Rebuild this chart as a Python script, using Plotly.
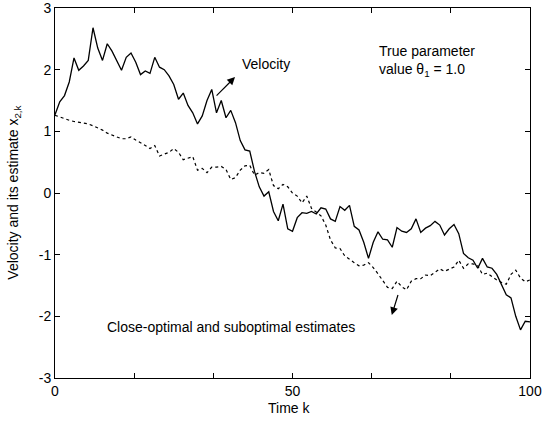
import plotly.graph_objects as go

# Time index k = 0..100
time_k = list(range(101))

# Simulated velocity x_{2,k}
velocity = [
    1.27, 1.48, 1.58, 1.80, 2.19, 1.99, 2.06, 2.15, 2.68, 2.35,
    2.15, 2.42, 2.30, 2.15, 1.99, 2.20, 2.27, 2.12, 1.92, 1.98,
    1.94, 2.20, 2.04, 2.00, 1.90, 1.76, 1.52, 1.62, 1.42, 1.30,
    1.12, 1.25, 1.50, 1.68, 1.30, 1.50, 1.22, 1.34, 1.14, 0.85,
    0.70, 0.68, 0.35, 0.10, -0.05, 0.02, -0.30, -0.45, -0.18, -0.58,
    -0.62, -0.40, -0.32, -0.33, -0.30, -0.34, -0.24, -0.26, -0.42, -0.46,
    -0.22, -0.28, -0.20, -0.54, -0.60, -0.80, -1.06, -0.80, -0.63, -0.75,
    -0.76, -0.88, -0.56, -0.62, -0.64, -0.58, -0.42, -0.64, -0.57, -0.53,
    -0.46, -0.52, -0.68, -0.58, -0.51, -0.66, -0.98, -1.05, -1.09, -1.22,
    -1.06, -1.20, -1.22, -1.32, -1.50, -1.65, -1.70, -2.00, -2.22, -2.08,
    -2.09,
]

# Close-optimal / suboptimal estimate of the velocity
estimate = [
    1.26, 1.23, 1.20, 1.18, 1.16, 1.15, 1.14, 1.12, 1.09, 1.06,
    1.02, 0.97, 0.94, 0.91, 0.88, 0.88, 0.91, 0.86, 0.82, 0.77,
    0.72, 0.77, 0.60, 0.63, 0.66, 0.72, 0.66, 0.54, 0.57, 0.59,
    0.37, 0.40, 0.33, 0.42, 0.42, 0.43, 0.38, 0.22, 0.25, 0.37,
    0.44, 0.45, 0.29, 0.33, 0.32, 0.38, 0.12, 0.07, 0.14, 0.10,
    0.00, -0.05, -0.16, -0.05, -0.25, -0.31, -0.37, -0.52, -0.76, -0.89,
    -0.90, -1.02, -1.08, -1.13, -1.18, -1.17, -1.13, -1.21, -1.31, -1.43,
    -1.53, -1.55, -1.43, -1.52, -1.57, -1.43, -1.39, -1.39, -1.33, -1.34,
    -1.28, -1.23, -1.27, -1.24, -1.20, -1.09, -1.22, -1.15, -1.15, -1.18,
    -1.32, -1.30, -1.36, -1.41, -1.45, -1.48, -1.32, -1.25, -1.38, -1.44,
    -1.41,
]

x_tick_vals = [0, 100 / 6, 200 / 6, 50, 400 / 6, 500 / 6, 100]
x_tick_text = ["0", "", "", "50", "", "", "100"]
y_tick_vals = [-3, -2, -1, 0, 1, 2, 3]
y_tick_text = ["-3", "-2", "-1", "0", "1", "2", "3"]

FONT = "Liberation Sans, Arial, Helvetica, sans-serif"

fig = go.Figure()
fig.add_trace(go.Scatter(
    x=time_k, y=velocity, mode="lines",
    line=dict(color="black", width=1.3),
    showlegend=False,
))
fig.add_trace(go.Scatter(
    x=time_k, y=estimate, mode="lines",
    line=dict(color="black", width=1.2, dash="3px,3px"),
    showlegend=False,
))

axis_common = dict(
    automargin=False,
    showgrid=False, zeroline=False,
    showline=True, linecolor="black", linewidth=1, mirror="ticks",
    ticks="inside", ticklen=5, tickwidth=1, tickcolor="black",
    ticklabeloverflow="allow",
    tickfont=dict(family=FONT, size=14, color="black"),
)

fig.update_xaxes(range=[0, 100], tickmode="array",
                 tickvals=x_tick_vals, ticktext=x_tick_text,
                 ticklabelstandoff=0, **axis_common)
fig.update_yaxes(range=[-3, 3], tickmode="array",
                 tickvals=y_tick_vals, ticktext=y_tick_text,
                 ticklabelstandoff=0, **axis_common)

txt = dict(family=FONT, size=14, color="black")
annotations = [
    # axis titles
    dict(text="Time k", xref="paper", yref="paper", x=0.493, y=-0.081,
         xanchor="center", yanchor="middle", showarrow=False, font=txt),
    dict(text="Velocity and its estimate x<sub>2,k</sub>", xref="paper", yref="paper",
         x=-0.087, y=0.5, xanchor="center", yanchor="middle",
         textangle=-90, showarrow=False, font=txt),
    # in-plot labels
    dict(text="Velocity", x=38.9, y=2.10, xanchor="left", yanchor="middle",
         showarrow=False, font=txt),
    dict(text="True parameter<br>value θ<sub>1</sub> = 1.0", x=67.8, y=2.14,
         xanchor="left", yanchor="middle", align="left",
         showarrow=False, font=txt),
    dict(text="Close-optimal and suboptimal estimates", x=10.5, y=-2.18,
         xanchor="left", yanchor="middle", showarrow=False, font=txt),
    # pointer arrows
    dict(text="", x=37.9, y=1.88, ax=33.7, ay=1.556, axref="x", ayref="y",
         showarrow=True, arrowhead=2, arrowsize=1.3, arrowwidth=1.2,
         arrowcolor="black", standoff=0),
    dict(text="", x=70.9, y=-1.98, ax=72.3, ay=-1.63, axref="x", ayref="y",
         showarrow=True, arrowhead=2, arrowsize=1.3, arrowwidth=1.2,
         arrowcolor="black", standoff=0),
]

fig.update_layout(
    width=542, height=421,
    margin=dict(l=55, r=12, t=8, b=43),
    paper_bgcolor="white", plot_bgcolor="white",
    font=txt,
    annotations=annotations,
)

fig.write_html("out.html")
